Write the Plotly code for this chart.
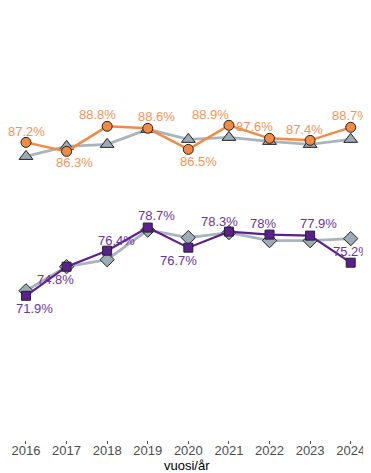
import plotly.graph_objects as go

# ---- data ----
years = [2016, 2017, 2018, 2019, 2020, 2021, 2022, 2023, 2024]
orange_values = [87.2, 86.3, 88.8, 88.6, 86.5, 88.9, 87.6, 87.4, 88.7]
orange_compare = [85.8, 86.8, 87.0, 88.5, 87.5, 87.7, 87.3, 87.0, 87.5]
purple_values = [71.9, 74.8, 76.4, 78.7, 76.7, 78.3, 78.0, 77.9, 75.2]
purple_compare = [72.4, 74.8, 75.5, 78.45, 77.7, 78.2, 77.4, 77.4, 77.6]
x_title = "vuosi/år"

# ---- label offsets (pixels: dx, dy; dy positive = up) ----
orange_offsets = [(1, 11), (8, -11), (-10, 12), (9, 12), (10, -12), (-18, 11), (-15, 12), (-6, 11), (0, 12)]
purple_offsets = [(9, -13), (-11, -13), (9, 10), (9, 12), (-10, -13), (-9, 10), (-7, 11), (8, 12), (1, 11)]

ORANGE = "#F08A45"
ORANGE_TXT = "#F29556"
PURPLE = "#5B1F8E"
PURPLE_TXT = "#6A33A0"
GRAY_LINE = "#A8B5BF"
GRAY_FILL = "#9DABB5"
FONT = "Liberation Sans, Arial, sans-serif"

fig = go.Figure()

fig.add_trace(go.Scatter(
    x=years, y=orange_compare, mode="lines+markers",
    line=dict(color=GRAY_LINE, width=2.8),
    marker=dict(symbol="triangle-up", size=12, color=GRAY_FILL,
                line=dict(color="#222222", width=1)),
    hoverinfo="skip", showlegend=False))
fig.add_trace(go.Scatter(
    x=years, y=purple_compare, mode="lines+markers",
    line=dict(color=GRAY_LINE, width=2.8),
    marker=dict(symbol="diamond", size=11, color=GRAY_FILL,
                line=dict(color="#222222", width=1)),
    hoverinfo="skip", showlegend=False))
fig.add_trace(go.Scatter(
    x=years, y=orange_values, mode="lines+markers",
    line=dict(color=ORANGE, width=2.5),
    marker=dict(symbol="circle", size=10, color=ORANGE,
                line=dict(color="#222222", width=1)),
    showlegend=False))
fig.add_trace(go.Scatter(
    x=years, y=purple_values, mode="lines+markers",
    line=dict(color=PURPLE, width=2.2),
    marker=dict(symbol="square", size=9, color=PURPLE,
                line=dict(color="#222222", width=1)),
    showlegend=False))

annotations = []
for yr, v, (dx, dy) in zip(years, orange_values, orange_offsets):
    annotations.append(dict(x=yr, y=v, xref="x", yref="y", text=f"{v:g}%",
                            showarrow=False, xshift=dx, yshift=dy,
                            font=dict(family=FONT, size=13, color=ORANGE_TXT)))
for yr, v, (dx, dy) in zip(years, purple_values, purple_offsets):
    annotations.append(dict(x=yr, y=v, xref="x", yref="y", text=f"{v:g}%",
                            showarrow=False, xshift=dx, yshift=dy,
                            font=dict(family=FONT, size=13, color=PURPLE_TXT)))
# axis title
annotations.append(dict(x=years[len(years) // 2], y=0, xref="x", yref="paper",
                        text=x_title, showarrow=False, yanchor="middle",
                        xshift=-1, yshift=-25,
                        font=dict(family=FONT, size=13, color="#000000")))

fig.update_layout(
    width=363, height=465,
    margin=dict(l=0, r=0, t=6, b=33),
    paper_bgcolor="white", plot_bgcolor="white",
    font=dict(family=FONT, size=13, color="#4D4D4D"),
    annotations=annotations,
    xaxis=dict(range=[2015.557, 2024.50], tickmode="array", tickvals=years,
               ticktext=[str(y) for y in years],
               showgrid=False, zeroline=False, showline=False,
               ticks="outside", ticklen=3, tickcolor="#4D4D4D", tickwidth=1,
               ticklabelstandoff=-5,
               tickfont=dict(family=FONT, size=13, color="#4D4D4D")),
    yaxis=dict(range=[57.52, 100], visible=False, showgrid=False, zeroline=False),
)

fig.write_html("out.html")
